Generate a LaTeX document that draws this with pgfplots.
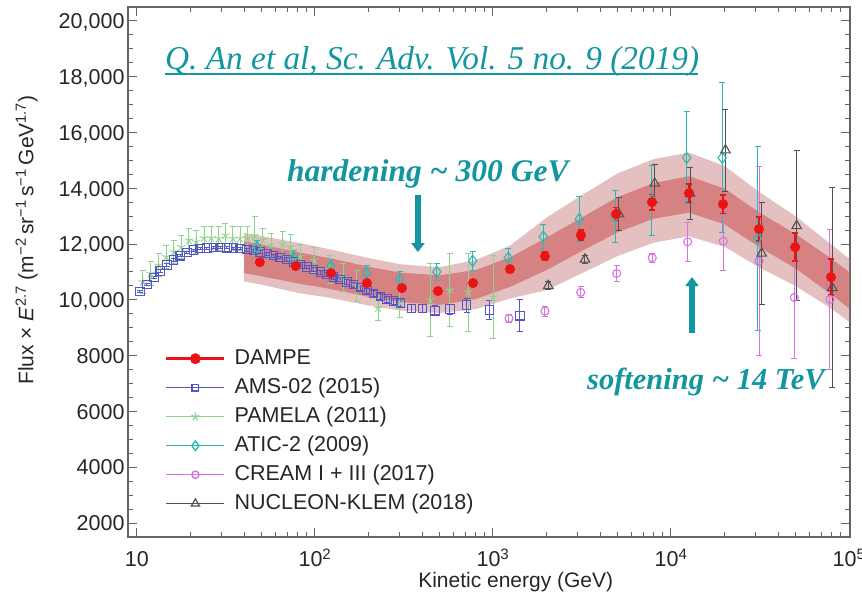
\documentclass[border=0pt]{standalone}
\usepackage{fontspec}
\setmainfont{Liberation Sans}
\newfontfamily\annfont{Liberation Serif}
\usepackage{pgfplots}
\pgfplotsset{compat=1.18}
\usetikzlibrary{arrows.meta}
\definecolor{dred}{RGB}{235,20,20}
\definecolor{amsblue}{RGB}{85,85,200}
\definecolor{pamgreen}{RGB}{140,212,140}
\definecolor{aticcyan}{RGB}{40,185,180}
\definecolor{creamvio}{RGB}{215,115,225}
\definecolor{nucgray}{RGB}{80,80,80}
\definecolor{bandout}{RGB}{228,192,192}
\definecolor{bandin}{RGB}{214,130,130}
\definecolor{ann}{RGB}{18,150,160}
\definecolor{axgray}{RGB}{100,100,100}
\begin{document}
\begin{tikzpicture}
\useasboundingbox (0,0) rectangle (862pt,596pt);
\begin{axis}[
  at={(128pt,59pt)}, anchor=south west,
  width=722pt, height=530pt, scale only axis,
  xmode=log, xmin=8.91, xmax=101300, ymin=1500, ymax=20500,
  xtick={10,100,1000,10000,100000},
  xticklabels={10,10\textsuperscript{2},10\textsuperscript{3},10\textsuperscript{4},10\textsuperscript{5}},
  ytick={2000,4000,6000,8000,10000,12000,14000,16000,18000,20000},
  yticklabels={2000,4000,6000,8000,{10,000},{12,000},{14,000},{16,000},{18,000},{20,000}},
  minor y tick num=3,
  tick align=inside,
  major tick length=9pt, minor tick length=5pt,
  axis line style={axgray, line width=1.2pt},
  every tick/.style={axgray, line width=1pt},
  tick label style={font=\fontsize{21.5}{24}\selectfont, text=black!85},
  xticklabel style={anchor=base, yshift=-30pt},
  yticklabel style={anchor=base east, yshift=-7.7pt},
  xlabel={Kinetic energy (GeV)},
  ylabel={Flux × \textit{E}\textsuperscript{2.7} (m\textsuperscript{−2}\,sr\textsuperscript{−1}\,s\textsuperscript{−1}\,GeV\textsuperscript{1.7})},
  every axis x label/.style={at={(axis description cs:0.537,-0.0962)}, anchor=base},
  every axis y label/.style={at={(axis description cs:-0.1309,0.5604)}, rotate=90, anchor=base},
  label style={font=\fontsize{21}{24}\selectfont, text=black!85},
  legend style={at={(0.0471,0.3604)}, anchor=north west, draw=none, fill=none,
    font=\fontsize{21.5}{24}\selectfont, text=black!85, row sep=8pt,
    nodes={inner sep=0pt, text height=16pt, text depth=5pt},
    /tikz/every odd column/.append style={column sep=9pt}},
  legend cell align=left,
  legend image code/.code={\draw[mark repeat=2,mark phase=2,#1] plot coordinates {(0pt,0pt) (29pt,0pt) (58pt,0pt)};},
]
% outer band
\addplot[fill=bandout, draw=none, forget plot] coordinates {
(40,12400) (50,12290) (80,12050) (120,11820) (200,11500) (300,11280) (500,11170) (800,11430) (1250,11950) (2000,12950) (3150,13750) (5000,14530) (8000,15050) (12600,15280) (20000,14800) (31600,13850) (50000,13000) (79000,12000) (100000,11480)
(100000,9220) (79000,9700) (50000,10500) (31600,11150) (20000,11900) (12600,12280) (8000,12050) (5000,11570) (3150,10950) (2000,10350) (1250,10050) (800,9670) (500,9530) (300,9620) (200,9800) (120,10080) (80,10250) (50,10550) (40,10660)
} -- cycle;
% inner band
\addplot[fill=bandin, draw=none, forget plot] coordinates {
(40,12100) (50,11990) (80,11710) (120,11500) (200,11190) (300,10980) (500,10880) (800,11070) (1250,11530) (2000,12230) (3150,12950) (5000,13680) (8000,14190) (12600,14430) (20000,13990) (31600,13120) (50000,12370) (79000,11490) (100000,11000)
(100000,9700) (79000,10210) (50000,11130) (31600,11880) (20000,12710) (12600,13130) (8000,12910) (5000,12420) (3150,11750) (2000,11070) (1250,10470) (800,10030) (500,9820) (300,9920) (200,10110) (120,10400) (80,10590) (50,10850) (40,10960)
} -- cycle;
% PAMELA
\addplot[only marks, pamgreen, mark=star, mark size=4.5pt, line width=0.9pt, forget plot,
  error bars/.cd, y dir=both, y explicit, error bar style={pamgreen, line width=0.9pt},
  error mark options={rotate=90, pamgreen, mark size=3pt, line width=0.9pt}]
table[x=x, y=y, y error=e] {
x y e
10.8 10650 420
11.94 10945 420
13.24 11245 420
14.61 11545 420
16.14 11720 420
17.74 11900 420
19.6 12140 420
21.5 12080 420
23.8 12220 420
26.15 12220 420
28.8 12200 420
31.35 12320 420
34.6 12200 420
38.0 12200 420
41.7 12220 420
45.8 12300 700
51.0 12150 420
56.8 11970 420
66.1 12000 440
73.0 11900 450
82.7 11550 450
99 11420 450
121 11100 500
144 10800 500
172 10500 550
226 9705 450
300 9885 500
444 9990 1300
573 10350 1300
725 10280 1400
1000 10100 1500
};
% AMS-02
\addplot[only marks, amsblue, mark=square, mark size=4.2pt, line width=1.1pt, forget plot,
  error bars/.cd, y dir=both, y explicit, error bar style={amsblue, line width=1pt},
  error mark options={rotate=90, amsblue, mark size=3pt, line width=1pt}]
table[x=x, y=y, y error=e] {
x y e
10.39 10297 40
11.38 10555 40
12.46 10806 40
13.52 11032 40
14.74 11247 40
16.08 11426 40
17.51 11580 40
19.09 11702 40
20.83 11784 40
22.68 11838 40
24.74 11856 40
26.97 11874 40
29.38 11874 40
32.03 11867 40
34.94 11856 40
38.05 11838 40
41.50 11802 50
45.24 11766 50
49.28 11713 50
53.75 11659 50
58.61 11587 50
63.83 11516 50
69.60 11444 60
75.93 11354 60
82.70 11265 60
90.19 11175 60
98.3 11086 70
107.1 10996 70
116.8 10906 70
127.4 10817 80
138.7 10727 80
151.3 10638 80
165.0 10548 90
179.7 10440 90
196.0 10333 90
213.7 10225 100
232.8 10118 100
253.9 10028 110
276.8 9956 110
301.5 9885 120
349.4 9695 140
402.8 9695 140
472.3 9609 180
573.4 9670 180
711.6 9813 250
953.3 9634 330
1418 9430 570
};
% ATIC-2
\addplot[only marks, aticcyan, mark=diamond, mark size=5.5pt, line width=1.1pt, forget plot,
  error bars/.cd, y dir=both, y explicit, error bar style={aticcyan, line width=1pt},
  error mark options={rotate=90, aticcyan, mark size=3pt, line width=1pt}]
table[x=x, y=y, y error=e] {
x y e
47.2 11892 250
76.2 11533 250
123 11211 250
195.1 10971 250
300 10745 280
483 11007 300
769 11401 330
1219 11508 330
1917 12268 450
3054 12895 800
4847 13000 930
7820 13576 1250
12240 15092 1650
19400 15092 2690
30700 12200 3300
};
% CREAM
\addplot[only marks, creamvio, mark=o, mark size=4pt, line width=1.1pt, forget plot,
  error bars/.cd, y dir=both, y explicit, error bar style={creamvio, line width=1pt},
  error mark options={rotate=90, creamvio, mark size=3pt, line width=1pt}]
table[x=x, y=y, y error=e] {
x y e
1230 9336 150
1959 9598 180
3110 10268 200
4953 10949 300
7850 11508 150
12410 12082 700
19680 12107 1070
31230 11390 3400
49290 10089 2200
78170 10018 2500
};
% NUCLEON-KLEM
\addplot[only marks, nucgray, mark=triangle, mark size=5.5pt, line width=1.1pt, forget plot,
  error bars/.cd, y dir=both, y explicit, error bar style={nucgray, line width=1pt},
  error mark options={rotate=90, nucgray, mark size=3pt, line width=1pt}]
table[x=x, y=y, y error=e] {
x y e
2045 10505 150
3288 11451 150
5104 13075 590
8100 14175 680
12790 13817 930
20230 15368 1470
32330 11666 1830
50800 12655 2690
80500 10433 3580
};
% DAMPE
\addplot[only marks, dred, mark=*, mark size=4.8pt, mark options={fill=dred}, forget plot,
  error bars/.cd, y dir=both, y explicit, error bar style={dred, line width=2.2pt},
  error mark options={rotate=90, dred, mark size=3pt, line width=1.5pt}]
table[x=x, y=y, y error=e] {
x y e
49 11354 50
78 11211 50
123 10960 50
196 10602 50
308 10423 60
491 10315 70
773 10602 90
1247 11103 110
1959 11569 140
3120 12322 180
4909 13075 230
7820 13505 280
12620 13827 330
19600 13433 330
31200 12537 430
49800 11892 500
79300 10817 650
};
\addlegendimage{dred, line width=2.4pt, mark=*, mark size=4.2pt, mark options={solid, fill=dred}}
\addlegendentry{DAMPE}
\addlegendimage{amsblue, line width=1.2pt, mark=square, mark size=3.4pt}
\addlegendentry{AMS-02 (2015)}
\addlegendimage{pamgreen, line width=1.2pt, mark=star, mark size=4.2pt}
\addlegendentry{PAMELA (2011)}
\addlegendimage{aticcyan, line width=1.4pt, mark=diamond, mark size=4.8pt}
\addlegendentry{ATIC-2 (2009)}
\addlegendimage{creamvio, line width=1.4pt, mark=o, mark size=3.6pt}
\addlegendentry{CREAM I + III (2017)}
\addlegendimage{nucgray, line width=1.2pt, mark=triangle, mark size=4.8pt}
\addlegendentry{NUCLEON-KLEM (2018)}
\draw[ann, line width=5.5pt, -{Triangle[width=13pt,length=9pt]}] (axis cs:379,13756) -- (axis cs:379,11713);
\draw[ann, line width=5.5pt, -{Triangle[width=13pt,length=9pt]}] (axis cs:13120,8810) -- (axis cs:13120,10817);
\end{axis}
\node[anchor=base west, inner sep=0pt, text=ann, font=\annfont\itshape\fontsize{33.3}{36}\selectfont] at (165pt,526pt) {Q. An et al, Sc. Adv. Vol. 5 no. 9 (2019)};
\draw[ann, line width=1.8pt] (165pt,522pt) -- (698pt,522pt);
\node[anchor=base west, inner sep=0pt, text=ann, font=\annfont\bfseries\itshape\fontsize{31.5}{34}\selectfont] at (287pt,414.3pt) {hardening \textasciitilde{} 300 GeV};
\node[anchor=base west, inner sep=0pt, text=ann, font=\annfont\bfseries\itshape\fontsize{30.5}{34}\selectfont] at (587pt,206.7pt) {softening \textasciitilde{} 14 TeV};
\end{tikzpicture}
\end{document}
